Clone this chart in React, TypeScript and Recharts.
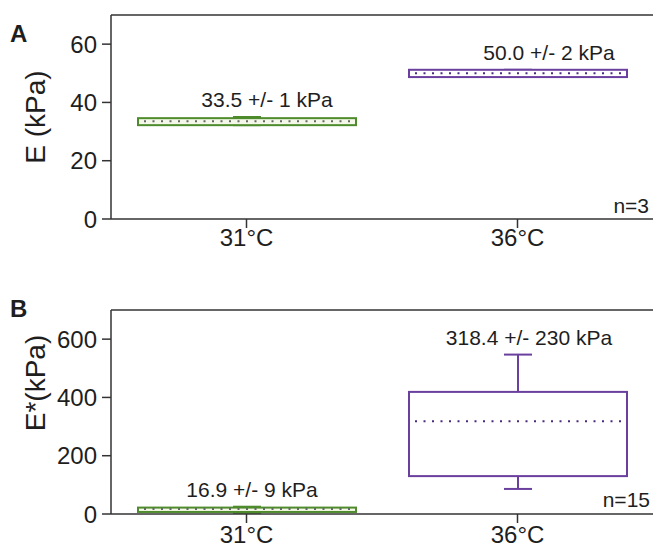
import React from "react";
import { Bar, ComposedChart, ReferenceLine, XAxis, YAxis } from "recharts";

const FONT = "'Liberation Sans', Arial, sans-serif";
const AXIS = "#333333";
const INK = "#1e1e1e";

const TEMPS = ["31°C", "36°C"];

// Panel A: E (kPa), n=3
const E_LOW = [32.2, 49.0];
const E_Q1 = [32.2, 48.7];
const E_MEAN = [33.5, 50.0];
const E_Q3 = [34.6, 51.2];
const E_HIGH = [35.0, 51.2];
const E_LABELS = ["33.5 +/- 1 kPa", "50.0 +/- 2 kPa"];
const E_TICKS = [0, 20, 40, 60];
const E_MINOR = [10, 30, 50];

// Panel B: E* (kPa), n=15
const ES_LOW = [4, 86];
const ES_Q1 = [7, 130];
const ES_MEAN = [16.9, 318.4];
const ES_Q3 = [22, 419];
const ES_HIGH = [25, 547];
const ES_LABELS = ["16.9 +/- 9 kPa", "318.4 +/- 230 kPa"];
const ES_TICKS = [0, 200, 400, 600];
const ES_MINOR = [100, 300, 500];

// styles per category
const STROKES = ["#4e8b2c", "#6a3f9e"];
const FILLS = ["#f4f8e8", "#ffffff"];
const DOTS = ["#666666", "#4b2a80"];

type Row = {
  temp: string;
  low: number;
  q1: number;
  mean: number;
  q3: number;
  high: number;
  label: string;
};

function rows(
  low: number[],
  q1: number[],
  mean: number[],
  q3: number[],
  high: number[],
  labels: string[]
): Row[] {
  return TEMPS.map((temp, i) => ({
    temp,
    low: low[i],
    q1: q1[i],
    mean: mean[i],
    q3: q3[i],
    high: high[i],
    label: labels[i],
  }));
}

const dataA = rows(E_LOW, E_Q1, E_MEAN, E_Q3, E_HIGH, E_LABELS);
const dataB = rows(ES_LOW, ES_Q1, ES_MEAN, ES_Q3, ES_HIGH, ES_LABELS);

function makeBox(labelDx: number[]) {
  return function BoxShape(props: any) {
    const { x, y, width, height, payload, index } = props;
    const d: Row = payload;
    const top = Math.min(y, y + height);
    const h = Math.abs(height);
    const k = h / (d.q3 - d.q1);
    const py = (v: number) => top + (d.q3 - v) * k;
    const cx = x + width / 2;
    const col = STROKES[index];
    const yHi = py(d.high);
    const yLo = py(d.low);
    return (
      <g>
        {d.high > d.q3 && (
          <line x1={cx} x2={cx} y1={yHi} y2={top} stroke={col} strokeWidth={2} />
        )}
        <line x1={cx - 14} x2={cx + 14} y1={yHi} y2={yHi} stroke={col} strokeWidth={2} />
        {d.low < d.q1 && (
          <line x1={cx} x2={cx} y1={top + h} y2={yLo} stroke={col} strokeWidth={2} />
        )}
        <line x1={cx - 14} x2={cx + 14} y1={yLo} y2={yLo} stroke={col} strokeWidth={2} />
        <rect
          x={x}
          y={top}
          width={width}
          height={h}
          fill={FILLS[index]}
          stroke={col}
          strokeWidth={2}
        />
        <line
          x1={x + 6}
          x2={x + width - 2}
          y1={py(d.mean)}
          y2={py(d.mean)}
          stroke={DOTS[index]}
          strokeWidth={2}
          strokeDasharray="2 6.5"
        />
        <text
          x={cx + labelDx[index]}
          y={Math.min(yHi, top) - 10}
          textAnchor="middle"
          fontSize={21}
          fontFamily={FONT}
          fill={INK}
        >
          {d.label}
        </text>
      </g>
    );
  };
}

function Panel({
  data,
  max,
  ticks,
  minor,
  height,
  top,
  bottom,
  tickMargin,
  labelDx,
}: {
  data: Row[];
  max: number;
  ticks: number[];
  minor: number[];
  height: number;
  top: number;
  bottom: number;
  tickMargin: number;
  labelDx: number[];
}) {
  const tickFont = { fill: INK, fontSize: 24, fontFamily: FONT };
  return (
    <ComposedChart
      width={653}
      height={height}
      data={data}
      margin={{ top, right: 0, bottom, left: 0 }}
    >
      <XAxis
        dataKey="temp"
        xAxisId="x"
        height={30}
        tick={tickFont}
        tickSize={9}
        tickMargin={tickMargin}
        tickLine={{ stroke: AXIS, strokeWidth: 1.5 }}
        axisLine={{ stroke: AXIS, strokeWidth: 1.5 }}
      />
      <YAxis
        yAxisId="minor"
        width={0}
        domain={[0, max]}
        allowDataOverflow
        ticks={minor}
        tickSize={4}
        tickFormatter={() => ""}
        axisLine={false}
        tickLine={{ stroke: AXIS, strokeWidth: 1.5 }}
      />
      <YAxis
        yAxisId="main"
        width={111}
        domain={[0, max]}
        allowDataOverflow
        ticks={ticks}
        tick={tickFont}
        tickSize={9}
        tickMargin={5}
        tickLine={{ stroke: AXIS, strokeWidth: 1.5 }}
        axisLine={{ stroke: AXIS, strokeWidth: 1.5 }}
      />
      <ReferenceLine
        y={max}
        xAxisId="x"
        yAxisId="main"
        stroke={AXIS}
        strokeWidth={1.5}
        ifOverflow="visible"
      />
      <Bar
        xAxisId="x"
        yAxisId="main"
        dataKey={(d: Row) => [d.q1, d.q3]}
        barSize={218}
        shape={makeBox(labelDx)}
        isAnimationActive={false}
      />
    </ComposedChart>
  );
}

export default function App() {
  const txt = { fontFamily: FONT, fill: INK };
  return (
    <div
      style={{
        position: "absolute",
        left: 0,
        top: 0,
        width: 653,
        height: 551,
        background: "#fff",
      }}
    >
      <div style={{ position: "absolute", left: 0, top: 0 }}>
        <Panel
          data={dataA}
          max={70}
          ticks={E_TICKS}
          minor={E_MINOR}
          height={270}
          top={15}
          bottom={21}
          tickMargin={1}
          labelDx={[20, 31]}
        />
      </div>
      <div style={{ position: "absolute", left: 0, top: 270 }}>
        <Panel
          data={dataB}
          max={700}
          ticks={ES_TICKS}
          minor={ES_MINOR}
          height={281}
          top={40}
          bottom={7}
          tickMargin={3}
          labelDx={[5, 11]}
        />
      </div>
      <svg
        width={653}
        height={551}
        style={{ position: "absolute", left: 0, top: 0, pointerEvents: "none" }}
      >
        <text x={10} y={42} fontSize={24} fontWeight="bold" {...txt}>
          A
        </text>
        <text
          x={45}
          y={117}
          fontSize={28}
          textAnchor="middle"
          transform="rotate(-90 45 117)"
          {...txt}
        >
          E (kPa)
        </text>
        <text x={649} y={213} fontSize={21} textAnchor="end" {...txt}>
          n=3
        </text>
        <text x={10} y={317} fontSize={24} fontWeight="bold" {...txt}>
          B
        </text>
        <text
          x={45}
          y={383}
          fontSize={28}
          textAnchor="middle"
          transform="rotate(-90 45 383)"
          {...txt}
        >
          E*(kPa)
        </text>
        <text x={650} y={507} fontSize={21} textAnchor="end" {...txt}>
          n=15
        </text>
      </svg>
    </div>
  );
}
